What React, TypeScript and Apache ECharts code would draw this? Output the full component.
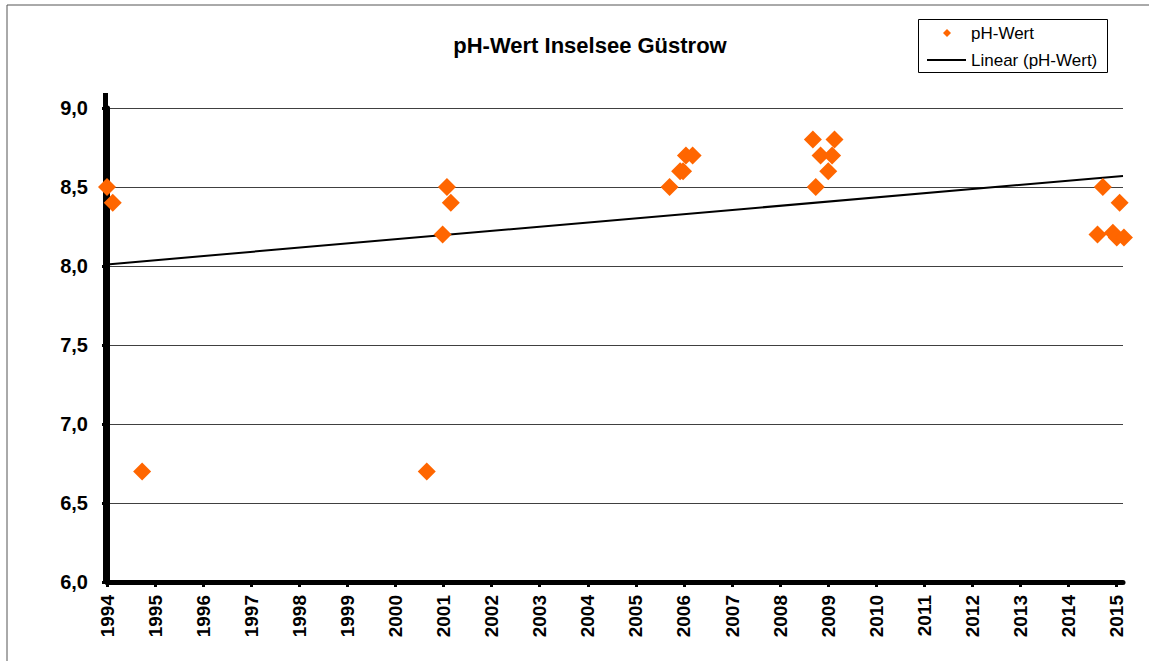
import React, { useEffect, useRef } from "react";
import * as echarts from "echarts";

const years = [1994, 1995, 1996, 1997, 1998, 1999, 2000, 2001, 2002, 2003, 2004, 2005, 2006, 2007, 2008, 2009, 2010, 2011, 2012, 2013, 2014, 2015];

// measurement time (decimal year) and pH value
const sampleTimes = [
  1994.0, 1994.12, 1994.73,
  2000.65, 2000.98, 2001.07, 2001.15,
  2005.7, 2005.92, 2005.98, 2006.04, 2006.18,
  2008.68, 2008.74, 2008.84, 2009.0, 2009.08, 2009.13,
  2014.6, 2014.71, 2014.92, 2015.0, 2015.06, 2015.15,
];
const phValues = [
  8.5, 8.4, 6.7,
  6.7, 8.2, 8.5, 8.4,
  8.5, 8.6, 8.6, 8.7, 8.7,
  8.8, 8.5, 8.7, 8.6, 8.7, 8.8,
  8.2, 8.5, 8.21, 8.18, 8.4, 8.18,
];

// linear trend line end points
const trendX = [1994, 2015.13];
const trendY = [8.01, 8.57];

const seriesNames = ["pH-Wert", "Linear (pH-Wert)"];

const FONT = "'Liberation Sans', Arial, sans-serif";

export default function App() {
  const ref = useRef<HTMLDivElement>(null);
  useEffect(() => {
    document.body.style.margin = "0";
    const chart = echarts.init(ref.current!, null, { renderer: "svg" });
    chart.setOption({
      animation: false,
      backgroundColor: "#ffffff",
      title: {
        text: "pH-Wert Inselsee Güstrow",
        left: 585,
        textAlign: "center",
        top: 29,
        textStyle: { fontFamily: FONT, fontWeight: "bold", fontSize: 22, color: "#000" },
      },
      grid: { left: 107, top: 108, right: 26, bottom: 79 },
      xAxis: {
        type: "value",
        min: 1994,
        max: 2015.13,
        interval: 1,
        axisLine: { show: true, onZero: false, lineStyle: { color: "#000", width: 5 } },
        axisTick: { show: true, length: 5, customValues: years, lineStyle: { color: "#000", width: 3 } },
        axisLabel: {
          customValues: years,
          rotate: 90,
          margin: 13,
          fontFamily: FONT,
          fontWeight: "bold",
          fontSize: 19,
          color: "#000",
          formatter: (v: number) => String(Math.round(v)),
        },
        splitLine: { show: false },
      },
      yAxis: {
        type: "value",
        min: 6,
        max: 9,
        interval: 0.5,
        axisLine: { show: true, onZero: false, lineStyle: { color: "#000", width: 5 } },
        axisTick: { show: true, length: 5, lineStyle: { color: "#000", width: 3 } },
        axisLabel: {
          margin: 19,
          fontFamily: FONT,
          fontWeight: "bold",
          fontSize: 20,
          color: "#000",
          formatter: (v: number) => v.toFixed(1).replace(".", ","),
        },
        splitLine: { show: true, lineStyle: { color: "#404040", width: 1 } },
      },
      graphic: [
        {
          type: "rect",
          z: 0,
          shape: { x: 7, y: 5, width: 1200, height: 800 },
          style: { fill: "none", stroke: "#555", lineWidth: 1 },
          silent: true,
        },
        {
          type: "line",
          z: 1,
          shape: { x1: 105.5, y1: 93, x2: 105.5, y2: 584 },
          style: { stroke: "#000", lineWidth: 5 },
          silent: true,
        },
        // legend
        {
          type: "group",
          silent: true,
          children: [
            {
              type: "rect",
              shape: { x: 918.5, y: 19.5, width: 189, height: 53 },
              style: { fill: "#fff", stroke: "#000", lineWidth: 1 },
            },
            {
              type: "polygon",
              shape: { points: [[947, 29], [951, 33], [947, 37], [943, 33]] },
              style: { fill: "#FF6600" },
            },
            {
              type: "text",
              x: 971,
              y: 33,
              style: { text: seriesNames[0], font: `17px ${FONT}`, fill: "#000", verticalAlign: "middle" },
            },
            {
              type: "line",
              shape: { x1: 927, y1: 60, x2: 966, y2: 60 },
              style: { stroke: "#000", lineWidth: 2 },
            },
            {
              type: "text",
              x: 971,
              y: 60,
              style: { text: seriesNames[1], font: `17px ${FONT}`, fill: "#000", verticalAlign: "middle" },
            },
          ],
        },
      ],
      series: [
        {
          name: seriesNames[1],
          type: "line",
          data: trendX.map((x, i) => [x, trendY[i]]),
          symbol: "none",
          lineStyle: { color: "#000", width: 2 },
          itemStyle: { color: "#000" },
          z: 3,
        },
        {
          name: seriesNames[0],
          type: "scatter",
          data: sampleTimes.map((x, i) => [x, phValues[i]]),
          symbol: "diamond",
          symbolSize: 18,
          clip: false,
          itemStyle: { color: "#FF6600", opacity: 1 },
          z: 4,
        },
      ],
    });
    return () => chart.dispose();
  }, []);
  return <div ref={ref} style={{ width: 1149, height: 661 }} />;
}
